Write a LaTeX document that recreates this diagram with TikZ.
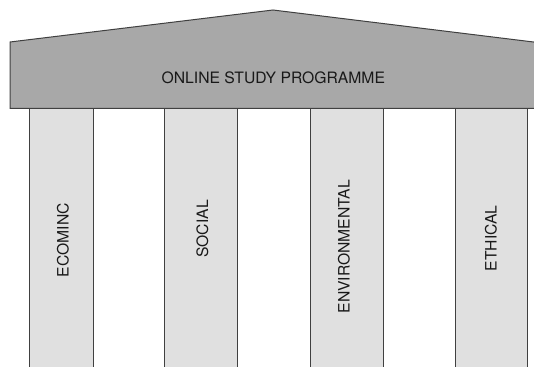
\documentclass[tikz,border=0pt]{standalone}
\usepackage{fontspec}
\setmainfont{TeX Gyre Heros}
\begin{document}
\begin{tikzpicture}[x=1pt,y=-1pt,
  outline/.style={draw=black!75, line width=1pt},
  roof/.style={outline, fill=black!34},
  pillar/.style={outline, fill=black!12, anchor=north west, inner sep=0pt},
  label/.style={font=\fontsize{15.7}{18}\selectfont, text=black!90, inner sep=0pt},
  pillarlabel/.style={label, rotate=90}]
\useasboundingbox (0,0) rectangle (534,366);
\clip (0,0) rectangle (534,366);
% the four columns
\node[pillar, minimum width=64pt, minimum height=270pt] (p1) at (28.5,108) {};
\node[pillar, minimum width=73pt, minimum height=270pt] (p2) at (164,108) {};
\node[pillar, minimum width=73pt, minimum height=270pt] (p3) at (309.5,108) {};
\node[pillar, minimum width=72pt, minimum height=270pt] (p4) at (455,108) {};
% the roof with its gable
\draw[roof] (10,108.5) -- (10,42) -- (273,10) -- (540,42.8) -- (540,108.5) -- cycle;
\node[label] (title) at (273.3,77.5) {ONLINE STUDY PROGRAMME};
% column labels
\node[pillarlabel] (l1) at (63,240.3) {ECOMINC};
\node[pillarlabel] (l2) at (202.5,229) {SOCIAL};
\node[pillarlabel] (l3) at (344,246.7) {ENVIRONMENTAL};
\node[pillarlabel] (l4) at (491,238.3) {ETHICAL};
\end{tikzpicture}
\end{document}
